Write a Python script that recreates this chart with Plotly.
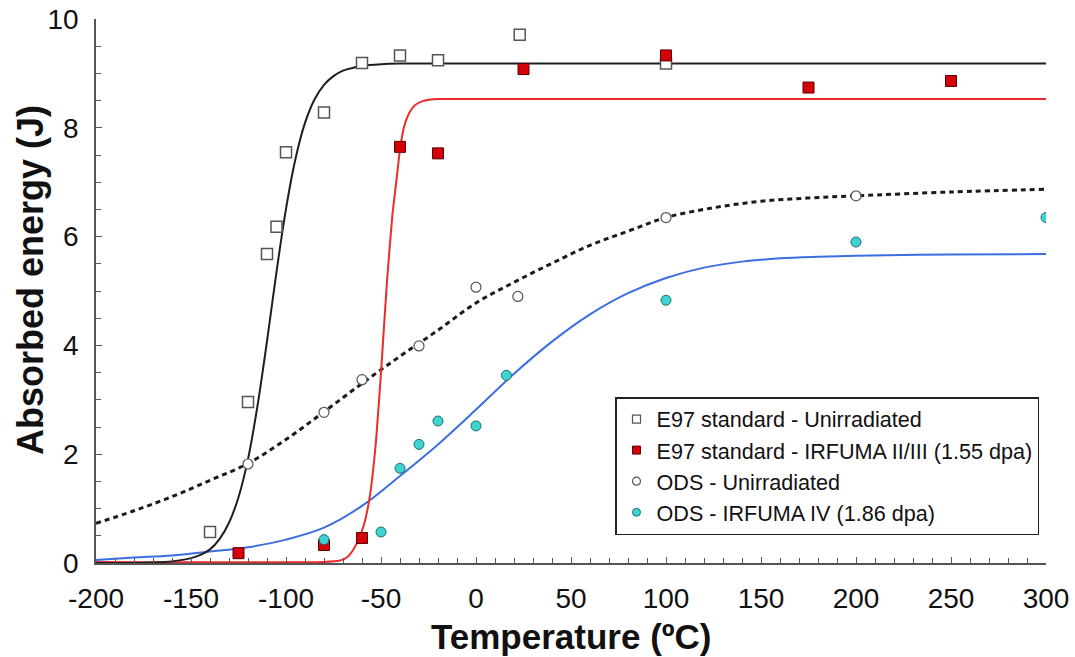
import plotly.graph_objects as go

# ---------------- data ----------------
# measured points
e97_unirr_T = [-140, -120, -110, -105, -100, -80, -60, -40, -20, 23, 100]
e97_unirr_E = [0.57, 2.96, 5.68, 6.18, 7.55, 8.28, 9.19, 9.33, 9.24, 9.71, 9.18]

e97_irr_T = [-125, -80, -60, -40, -20, 25, 100, 175, 250]
e97_irr_E = [0.18, 0.33, 0.46, 7.65, 7.53, 9.08, 9.33, 8.74, 8.86]

ods_unirr_T = [-120, -80, -60, -30, 0, 22, 100, 200]
ods_unirr_E = [1.82, 2.77, 3.37, 3.99, 5.07, 4.90, 6.35, 6.75]

ods_irr_T = [-80, -50, -40, -30, -20, 0, 16, 100, 200, 300]
ods_irr_E = [0.43, 0.57, 1.74, 2.18, 2.61, 2.52, 3.45, 4.83, 5.90, 6.35]

# fitted curves
fit_e97_unirr_T = [-200, -170, -160, -150, -145, -140, -135, -130, -125, -120, -115, -110,
                   -105, -100, -95, -90, -85, -80, -75, -70, -65, -60, -50, -40, 0, 100, 300]
fit_e97_unirr_E = [0.00, 0.01, 0.03, 0.09, 0.15, 0.25, 0.44, 0.74, 1.21, 1.91, 2.89, 4.08,
                   5.35, 6.51, 7.43, 8.09, 8.52, 8.79, 8.95, 9.05, 9.10, 9.14, 9.17, 9.18, 9.18, 9.18, 9.18]

fit_e97_irr_T = [-200, -80, -72, -68, -65, -62, -59, -56, -53, -50, -47, -44, -42, -40,
                 -38, -35, -32, -28, -24, -20, 0, 100, 300]
fit_e97_irr_E = [0.02, 0.02, 0.04, 0.10, 0.22, 0.42, 0.70, 1.20, 2.10, 3.50, 5.10, 6.40, 7.00, 7.60,
                 8.00, 8.28, 8.42, 8.49, 8.52, 8.53, 8.53, 8.53, 8.53]

fit_ods_unirr_T = [-200, -180, -160, -140, -120, -100, -80, -60, -40, -20, 0, 20, 40, 60,
                   80, 100, 125, 150, 175, 200, 250, 300]
fit_ods_unirr_E = [0.73, 0.96, 1.22, 1.52, 1.83, 2.27, 2.78, 3.30, 3.80, 4.28, 4.78, 5.16, 5.51, 5.84,
                   6.10, 6.35, 6.53, 6.65, 6.71, 6.75, 6.82, 6.87]

fit_ods_irr_T = [-200, -180, -160, -140, -120, -100, -80, -60, -40, -20, 0, 20, 40, 60,
                 80, 100, 120, 140, 160, 180, 200, 250, 300]
fit_ods_irr_E = [0.055, 0.10, 0.14, 0.21, 0.29, 0.43, 0.65, 1.05, 1.60, 2.18, 2.82, 3.48, 4.07, 4.57,
                 4.96, 5.24, 5.43, 5.54, 5.60, 5.63, 5.65, 5.67, 5.68]

legend_names = ["E97 standard - Unirradiated",
                "E97 standard - IRFUMA II/III (1.55 dpa)",
                "ODS - Unirradiated",
                "ODS - IRFUMA IV (1.86 dpa)"]

x_ticks = [-200, -150, -100, -50, 0, 50, 100, 150, 200, 250, 300]
y_ticks = [0, 2, 4, 6, 8, 10]

# ---------------- figure ----------------
fig = go.Figure()

# curves
fig.add_trace(go.Scatter(x=fit_ods_unirr_T, y=fit_ods_unirr_E, mode="lines", line_shape="spline",
                         line=dict(color="#1a1a1a", width=3, dash="5px,4px"), showlegend=False, hoverinfo="skip"))
fig.add_trace(go.Scatter(x=fit_ods_irr_T, y=fit_ods_irr_E, mode="lines", line_shape="spline",
                         line=dict(color="#3b6ee0", width=2), showlegend=False, hoverinfo="skip"))
fig.add_trace(go.Scatter(x=fit_e97_irr_T, y=fit_e97_irr_E, mode="lines", line_shape="spline",
                         line=dict(color="#ee2a2a", width=2, smoothing=0.6), showlegend=False, hoverinfo="skip"))
fig.add_trace(go.Scatter(x=fit_e97_unirr_T, y=fit_e97_unirr_E, mode="lines", line_shape="spline",
                         line=dict(color="#1e1e1e", width=2), showlegend=False, hoverinfo="skip"))

# markers
sq_open = dict(symbol="square", size=11, color="white", line=dict(color="#555555", width=1.5))
sq_red = dict(symbol="square", size=11, color="#d4000a", line=dict(color="#5a0000", width=1))
ci_open = dict(symbol="circle", size=10, color="white", line=dict(color="#555555", width=1.2))
ci_cyan = dict(symbol="circle", size=10, color="#3ed3d0", line=dict(color="#1f6f6e", width=1))

fig.add_trace(go.Scatter(x=e97_unirr_T, y=e97_unirr_E, mode="markers", marker=sq_open, showlegend=False))
fig.add_trace(go.Scatter(x=e97_irr_T, y=e97_irr_E, mode="markers", marker=sq_red, showlegend=False))
fig.add_trace(go.Scatter(x=ods_unirr_T, y=ods_unirr_E, mode="markers", marker=ci_open, showlegend=False))
fig.add_trace(go.Scatter(x=ods_irr_T, y=ods_irr_E, mode="markers", marker=ci_cyan, showlegend=False))

# legend entries (smaller symbols, as in the original legend)
leg_markers = [
    dict(symbol="square", size=8, color="white", line=dict(color="#555555", width=1.2)),
    dict(symbol="square", size=8, color="#d4000a", line=dict(color="#5a0000", width=1)),
    dict(symbol="circle", size=8, color="white", line=dict(color="#555555", width=1.2)),
    dict(symbol="circle", size=8, color="#3ed3d0", line=dict(color="#1f6f6e", width=1)),
]
for i, (nm, mk) in enumerate(zip(legend_names, leg_markers)):
    fig.add_trace(go.Scatter(x=[None], y=[None], mode="markers", marker=mk, name=nm,
                             legendgroup="g%d" % i, showlegend=True))

L, R, T, B = 96, 29, 19, 94
W, H = 1075, 657
pw = W - L - R
ph = H - T - B

axis_common = dict(showgrid=False, zeroline=False, showline=True, linecolor="#555555", linewidth=1.5,
                   ticks="inside", ticklen=6, tickwidth=1, tickcolor="#555555", automargin=False,
                   tickfont=dict(family="Liberation Sans, Arial, sans-serif", size=28, color="#111111"))

fig.update_layout(
    width=W, height=H,
    margin=dict(l=L, r=R, t=T, b=B),
    paper_bgcolor="white", plot_bgcolor="white",
    xaxis=dict(range=[-200, 300], tickvals=x_ticks, ticktext=[str(v) for v in x_ticks],
               minor=dict(dtick=10, ticks="inside", ticklen=5, tickcolor="#555555"),
               ticklabelstandoff=10, **axis_common),
    yaxis=dict(range=[0, 10], tickvals=y_ticks, ticktext=[str(v) for v in y_ticks],
               minor=dict(dtick=0.5, ticks="inside", ticklen=5, tickcolor="#555555"),
               ticklabelstandoff=10, **axis_common),
    legend=dict(x=(615 - L) / pw, y=(H - B - 397) / ph, xanchor="left", yanchor="top",
                bgcolor="white", bordercolor="#222222", borderwidth=1.5,
                font=dict(family="Liberation Sans, Arial, sans-serif", size=21.6, color="#111111"),
                traceorder="grouped", tracegroupgap=0, itemwidth=30),
    annotations=[
        dict(text="<b>Temperature (ºC)</b>", xref="paper", yref="paper",
             x=(571 - L) / pw, y=(H - B - 636) / ph, xanchor="center", yanchor="middle",
             showarrow=False, font=dict(family="Liberation Sans, Arial, sans-serif", size=35, color="#111111")),
        dict(text="<b>Absorbed energy (J)</b>", xref="paper", yref="paper",
             x=(30 - L) / pw, y=(H - B - 280) / ph, xanchor="center", yanchor="middle", textangle=-90,
             showarrow=False, font=dict(family="Liberation Sans, Arial, sans-serif", size=36, color="#111111")),
    ],
)

fig.write_html("out.html")
